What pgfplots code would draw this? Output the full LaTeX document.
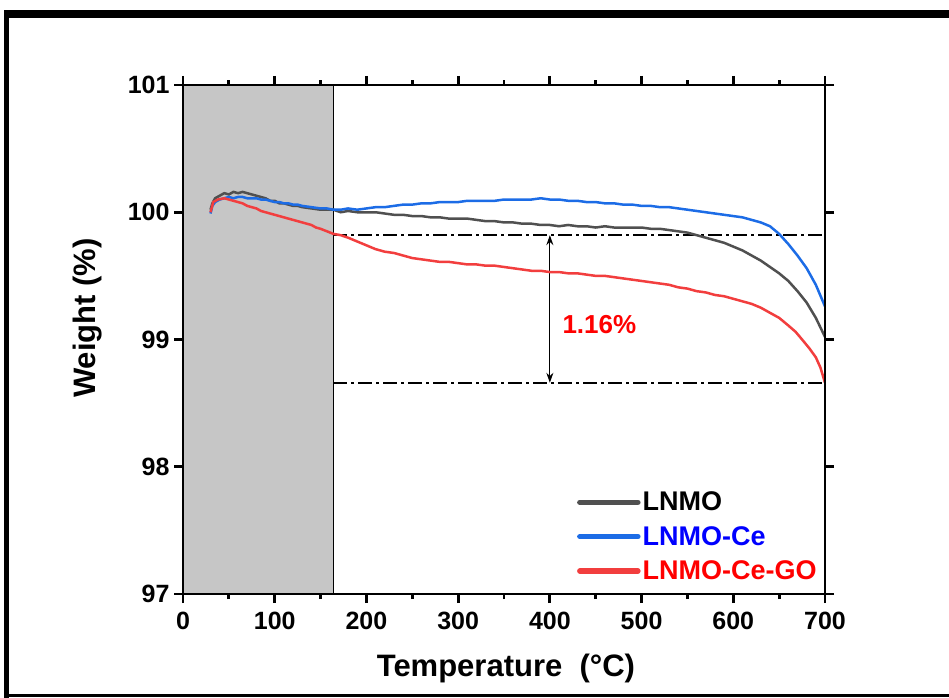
\documentclass[border=0pt]{standalone}
\usepackage{pgfplots}
\pgfplotsset{compat=1.18}
\usetikzlibrary{arrows.meta}
\usepackage{fontspec}
\setmainfont{Liberation Sans}
\definecolor{cgray}{RGB}{80,80,80}
\definecolor{cblue}{RGB}{28,108,230}
\definecolor{cred}{RGB}{242,62,62}
\definecolor{cshade}{RGB}{198,198,198}
\begin{document}
\begin{tikzpicture}
\useasboundingbox (0pt,0pt) rectangle (949pt,697pt);
\draw[line width=8pt] (4pt,682.5pt) -- (960pt,682.5pt);
\draw[line width=5pt] (6.5pt,-5pt) -- (6.5pt,686.5pt);
\draw[line width=3pt] (4pt,1.5pt) -- (960pt,1.5pt);
\begin{axis}[
  at={(183pt,103pt)}, anchor=south west,
  scale only axis, width=642pt, height=509pt,
  xmin=0, xmax=700, ymin=97, ymax=101,
  xtick={0,100,...,700}, ytick={97,98,99,100,101},
  minor xtick={50,150,...,650},
  tick align=outside, tick pos=both,
  major tick length=9pt, minor tick length=5pt,
  axis line style={line width=2.8pt},
  every tick/.style={line width=2.8pt, black},
  axis on top=true,
  /pgf/number format/assume math mode=true,
  tick label style={font=\fontsize{25}{28}\selectfont\bfseries},
  xticklabel style={yshift=-6pt},
  yticklabel style={xshift=-1pt},
  xlabel={Temperature\ \ (°C)},
  ylabel={Weight (\%)},
  label style={font=\fontsize{31}{34}\selectfont\bfseries},
  xlabel style={at={(rel axis cs:0.503,0)}, anchor=center, yshift=-74pt},
  ylabel style={at={(rel axis cs:0,0.542)}, anchor=center, yshift=95pt},
  legend style={draw=none, fill=none, at={(rel axis cs:0.995,0.017)}, anchor=south east,
    font=\fontsize{27}{30}\selectfont\bfseries, row sep=10pt, cells={anchor=west}},
  legend image code/.code={\draw[#1, line width=5.5pt, line cap=round] (0pt,0pt) -- (58pt,0pt);},
]
\fill[cshade] (axis cs:0,97) rectangle (axis cs:164,101);
\draw[black, line width=0.8pt] (axis cs:164,97) -- (axis cs:164,101);
\addplot[black, line width=2pt, dash pattern=on 14pt off 4pt on 3pt off 4pt, forget plot] coordinates {(164,99.82) (700,99.82)};
\addplot[black, line width=2pt, dash pattern=on 14pt off 4pt on 3pt off 4pt, forget plot] coordinates {(164,98.66) (700,98.66)};
\draw[{Stealth[length=10pt,width=7pt]}-{Stealth[length=10pt,width=7pt]}, line width=1.2pt] (axis cs:400,99.82) -- (axis cs:400,98.66);
\node[text=red, font=\fontsize{26}{29}\selectfont\bfseries] at (axis cs:454,99.12) {1.16\%};

\addplot[cgray, line width=2.5pt] coordinates {
(30,100.02) (32,100.07) (35,100.11) (40,100.13) (45,100.15) (50,100.14) (55,100.16) (60,100.15)
(65,100.16) (70,100.15) (75,100.14) (80,100.13) (85,100.12) (90,100.11) (95,100.09) (100,100.09)
(105,100.07) (110,100.07) (115,100.06) (120,100.05) (125,100.05) (130,100.04)
(140,100.03) (150,100.02) (157,100.02) (164,100.02) (172,100.00) (180,100.01) (190,100.00) (200,100.00)
(210,100.00) (220,99.99) (230,99.98) (240,99.98) (250,99.97)
(260,99.97) (270,99.96) (280,99.96) (290,99.95) (300,99.95) (310,99.95) (320,99.94) (330,99.93)
(340,99.93) (350,99.92) (360,99.92) (370,99.91) (380,99.91) (390,99.90)
(400,99.90) (410,99.89) (420,99.90) (430,99.89) (440,99.89) (450,99.88) (460,99.89) (470,99.88)
(480,99.88) (490,99.88) (500,99.88) (510,99.87) (520,99.87) (530,99.86)
(540,99.85) (550,99.84) (560,99.82) (570,99.80) (580,99.78) (590,99.76) (600,99.73) (610,99.70)
(620,99.66) (630,99.62) (640,99.57) (650,99.52) (660,99.46) (670,99.38)
(680,99.29) (690,99.17) (700,99.02)};
\addlegendentry{\textcolor{black}{LNMO}}
\addplot[cblue, line width=2.5pt] coordinates {
(30,99.99) (32,100.05) (35,100.08) (40,100.10) (45,100.11) (50,100.12) (55,100.11) (60,100.12) (65,100.12)
(70,100.11) (75,100.11) (80,100.11) (85,100.10)
(90,100.10) (95,100.09) (100,100.08) (105,100.08) (110,100.07) (115,100.07) (120,100.06) (125,100.06)
(130,100.05) (140,100.04) (150,100.03) (157,100.03)
(164,100.02) (172,100.02) (180,100.03) (190,100.02) (200,100.03) (210,100.04) (220,100.04) (230,100.05)
(240,100.06) (250,100.06) (260,100.07) (270,100.07) (280,100.08) (290,100.08)
(300,100.08) (310,100.09) (320,100.09) (330,100.09) (340,100.09) (350,100.10) (360,100.10) (370,100.10)
(380,100.10) (390,100.11) (400,100.10)
(410,100.10) (420,100.09) (430,100.09) (440,100.08) (450,100.08) (460,100.07) (470,100.07) (480,100.06)
(490,100.06) (500,100.05) (510,100.05) (520,100.04) (530,100.04) (540,100.03)
(550,100.02) (560,100.01) (570,100.00) (580,99.99) (590,99.98) (600,99.97) (610,99.96) (620,99.94) (630,99.92) (640,99.89)
(650,99.83) (660,99.75) (670,99.66) (680,99.56) (690,99.43) (700,99.26)};
\addlegendentry{\textcolor{blue}{LNMO-Ce}}
\addplot[cred, line width=2.5pt] coordinates {
(30,100.00) (33,100.08) (38,100.10) (45,100.11) (50,100.10) (55,100.09) (60,100.08) (65,100.07) (70,100.05)
(75,100.04) (80,100.03) (85,100.01)
(90,100.00) (95,99.99) (100,99.98) (105,99.97) (110,99.96) (115,99.95) (120,99.94) (125,99.93) (130,99.92)
(135,99.91) (140,99.90) (145,99.88) (150,99.87) (157,99.85)
(164,99.83) (172,99.82) (180,99.80) (190,99.77) (200,99.74) (210,99.71) (220,99.69) (230,99.68) (240,99.66)
(250,99.64) (260,99.63) (270,99.62) (280,99.61) (290,99.61)
(300,99.60) (310,99.59) (320,99.59) (330,99.58) (340,99.58) (350,99.57) (360,99.56) (370,99.55)
(380,99.54) (390,99.54) (400,99.53) (410,99.53) (420,99.52)
(430,99.52) (440,99.51) (450,99.50) (460,99.50) (470,99.49) (480,99.48) (490,99.47) (500,99.46)
(510,99.45) (520,99.44) (530,99.43) (540,99.41) (550,99.40) (560,99.38)
(570,99.37) (580,99.35) (590,99.34) (600,99.32) (610,99.30) (620,99.28) (630,99.25) (640,99.21)
(650,99.17) (660,99.11) (668,99.06) (675,99.00) (683,98.93) (690,98.86) (695,98.78)
(700,98.66)};
\addlegendentry{\textcolor{red}{LNMO-Ce-GO}}
\end{axis}
\end{tikzpicture}
\end{document}
